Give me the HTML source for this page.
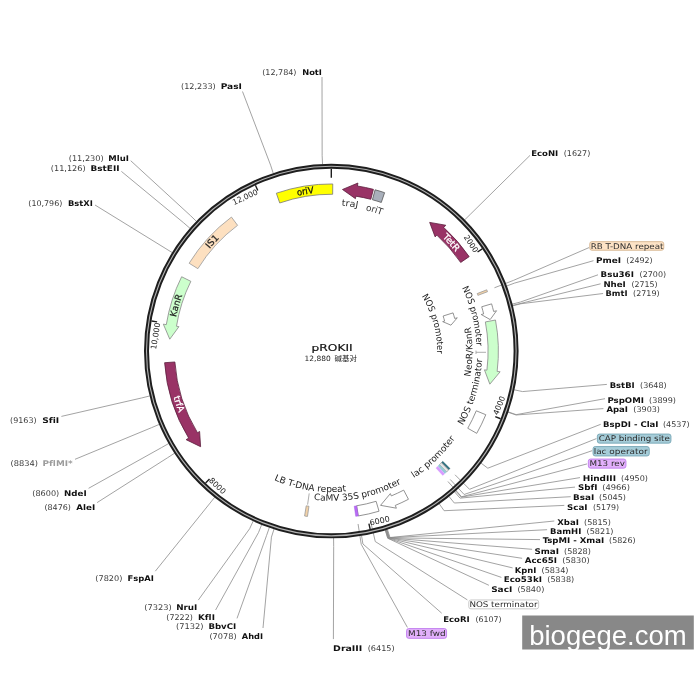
<!DOCTYPE html><html><head><meta charset="utf-8"><title>pROKII</title><style>html,body{margin:0;padding:0;background:#fff;}svg{display:block;}text{font-family:"DejaVu Sans Condensed","DejaVu Sans",sans-serif;font-variant-ligatures:none;font-feature-settings:"liga" 0,"clig" 0;}</style></head><body>
<svg width="700" height="700" viewBox="0 0 700 700">
<rect width="700" height="700" fill="#fff"/>
<path d="M322.55,164.35 L322.15,155.76 L322,77 M273.28,173.38 L270.62,165.21 L242.5,91.5 M196.59,221.5 L190.39,215.53 L130.7,160.7 M190.19,228.49 L183.7,222.85 L121.4,171.4 M172.37,252.7 L165.06,248.17 L95,205 M149.87,395.92 L141.52,397.99 L61.4,416.4 M159.37,424.34 L151.46,427.71 L75,459.3 M168.84,443.45 L161.36,447.7 L88.6,488.3 M174.72,453.1 L167.51,457.79 L97.1,502.6 M214.77,497.17 L209.41,503.9 L155.3,571.2 M253.26,520.88 L249.67,528.69 L198.3,600.1 M261.72,524.51 L258.52,532.5 L215.6,610 M269.4,527.4 L266.55,535.52 L237,618.4 M274.07,528.97 L271.43,537.16 L263,628 M333.58,537.94 L333.68,546.54 L333.4,639.1 M361.53,535.49 L362.92,543.98 L441.7,613.2 M385.23,530 L387.71,538.24 L488.9,585.3 M385.4,529.95 L387.89,538.18 L501.4,577.4 M385.75,529.84 L388.26,538.07 L512.6,567.9 M386.1,529.74 L388.62,537.96 L522.1,558.3 M386.27,529.68 L388.8,537.9 L532.1,549.3 M386.45,529.63 L388.99,537.85 L540,539.6 M386.88,529.49 L389.44,537.7 L547.1,529.7 M387.41,529.33 L389.99,537.53 L554.3,521 M439.16,503.69 L444.12,510.71 L564.3,505.4 M448.9,496.32 L454.31,503 L570.7,496.7 M454.41,491.68 L460.07,498.15 L575,487.1 M455.5,490.71 L461.21,497.14 L580,477.6 M480.94,463.04 L487.82,468.19 L600.7,424.3 M507.92,412.18 L516.05,414.99 L603.4,408.6 M508.04,411.83 L516.17,414.63 L605,398.7 M514.14,389.79 L522.55,391.57 L606.9,384.4 M512.65,305.82 L520.99,303.74 L603.1,293.5 M512.56,305.47 L520.9,303.37 L600.6,283.8 M512.22,304.15 L520.54,301.99 L598,274.8 M506.54,286.06 L514.6,283.07 L593.5,260.7 M464.55,219.99 L470.68,213.96 L530,155.4 M494.46,287.77 L513.57,280.35 L589,247.6 M455.04,474.79 L469.54,489.29 L596.4,438.6 M450.2,479.45 L464.13,494.49 L592.1,450.7 M447.94,481.51 L461.61,496.79 L587.1,463.9 M370.67,521.56 L375.28,541.54 L467.4,599.9 M358.07,523.99 L361.21,544.25 L407.4,627.4" fill="none" stroke="#8c8c8c" stroke-width="0.8"/>
<circle cx="331.3" cy="351.05" r="184.8" fill="none" stroke="#1e1e1e" stroke-width="5.0"/>
<circle cx="331.3" cy="351.05" r="184.8" fill="none" stroke="#b4b4b4" stroke-width="1.1"/>
<path d="M482.26,248.85 L477.54,252.04 M500.56,418.75 L495.27,416.64 M370.13,529.17 L368.92,523.6 M205.58,483.06 L209.51,478.93 M151.5,320.95 L157.12,321.89 M255.42,185.29 L257.8,190.47 M331.3,168.75 L331.3,177.75" stroke="#1e1e1e" stroke-width="1.4" fill="none"/>
<path d="M276.35,193.24 A167.1,167.1 0 0 1 332.76,183.96 L332.67,194.26 A156.8,156.8 0 0 0 279.73,202.97 Z" fill="#ffff00" stroke="#777" stroke-width="0.8" stroke-linejoin="miter"/>
<path d="M342.48,189.49 L357.91,183.04 L357.44,186.01 A167.1,167.1 0 0 1 373.42,189.35 L370.82,199.31 A156.8,156.8 0 0 0 355.83,196.18 L355.44,198.65 Z" fill="#993366" stroke="#5c1f3d" stroke-width="0.8" stroke-linejoin="miter"/>
<path d="M375.11,189.8 A167.1,167.1 0 0 1 384.6,192.68 L381.31,202.44 A156.8,156.8 0 0 0 372.41,199.74 Z" fill="#a9b0bb" stroke="#555" stroke-width="0.8" stroke-linejoin="miter"/>
<path d="M429.66,222.39 L445.78,225.24 L443.76,227.46 A167.1,167.1 0 0 1 469.18,256.64 L460.68,262.46 A156.8,156.8 0 0 0 436.83,235.08 L435.15,236.92 Z" fill="#993366" stroke="#5c1f3d" stroke-width="0.8" stroke-linejoin="miter"/>
<path d="M486.77,289.81 A167.1,167.1 0 0 1 487.51,291.71 L477.88,295.37 A156.8,156.8 0 0 0 477.19,293.58 Z" fill="#f3d2a8" stroke="#999" stroke-width="0.8" stroke-linejoin="miter"/>
<path d="M491.6,303.87 A167.1,167.1 0 0 1 493.65,311.47 L496.56,310.76 L490.17,319.59 L481.21,314.51 L483.64,313.91 A156.8,156.8 0 0 0 481.72,306.78 Z" fill="#ffffff" stroke="#777" stroke-width="0.8" stroke-linejoin="miter"/>
<path d="M495.49,320.03 A167.1,167.1 0 0 1 497.15,371.41 L500.13,371.78 L489.83,384.17 L484.45,369.85 L486.93,370.16 A156.8,156.8 0 0 0 485.37,321.94 Z" fill="#ccffcc" stroke="#888" stroke-width="0.8" stroke-linejoin="miter"/>
<path d="M453.06,312.89 A127.6,127.6 0 0 1 454.67,318.46 L457.28,317.77 L450.94,325.18 L442.68,321.62 L444.61,321.11 A117.2,117.2 0 0 0 443.14,316 Z" fill="#ffffff" stroke="#777" stroke-width="0.8" stroke-linejoin="miter"/>
<path d="M485.79,414.73 A167.1,167.1 0 0 1 476.74,433.33 L467.77,428.26 A156.8,156.8 0 0 0 476.27,410.8 Z" fill="#ffffff" stroke="#777" stroke-width="0.8" stroke-linejoin="miter"/>
<path d="M450.07,468.59 A167.1,167.1 0 0 1 448.84,469.82 L441.59,462.5 A156.8,156.8 0 0 0 442.75,461.34 Z" fill="#2f7585" stroke="#2a5560" stroke-width="0.4" stroke-linejoin="miter"/>
<path d="M448.63,470.03 A167.1,167.1 0 0 1 446.64,471.96 L439.53,464.51 A156.8,156.8 0 0 0 441.4,462.7 Z" fill="#e6e6e6" stroke="#666" stroke-width="0.5" stroke-linejoin="miter"/>
<path d="M446.54,472.06 A167.1,167.1 0 0 1 444.83,473.66 L437.84,466.1 A156.8,156.8 0 0 0 439.43,464.6 Z" fill="#93cbd6" stroke="#93cbd6" stroke-width="0.2" stroke-linejoin="miter"/>
<path d="M444.73,473.76 A167.1,167.1 0 0 1 442.68,475.62 L435.81,467.94 A156.8,156.8 0 0 0 437.74,466.19 Z" fill="#d89cff" stroke="#d89cff" stroke-width="0.2" stroke-linejoin="miter"/>
<path d="M408.46,499.27 A167.1,167.1 0 0 1 395.25,505.43 L396.39,508.2 L380.54,505.33 L390.35,493.6 L391.3,495.91 A156.8,156.8 0 0 0 403.7,490.13 Z" fill="#ffffff" stroke="#777" stroke-width="0.8" stroke-linejoin="miter"/>
<path d="M379.04,511.19 A167.1,167.1 0 0 1 358.3,515.95 L356.64,505.79 A156.8,156.8 0 0 0 376.1,501.31 Z" fill="#ffffff" stroke="#777" stroke-width="0.8" stroke-linejoin="miter"/>
<path d="M358.3,515.95 A167.1,167.1 0 0 1 355.71,516.36 L354.21,506.17 A156.8,156.8 0 0 0 356.64,505.79 Z" fill="#b96bf5" stroke="#9a4fe0" stroke-width="0.4" stroke-linejoin="miter"/>
<path d="M307.47,516.44 A167.1,167.1 0 0 1 304.58,516 L306.23,505.83 A156.8,156.8 0 0 0 308.94,506.25 Z" fill="#f3d2a8" stroke="#999" stroke-width="0.8" stroke-linejoin="miter"/>
<path d="M200.61,446.7 L186.11,439.67 L188.67,438.11 A167.1,167.1 0 0 1 164.61,362.71 L174.88,361.99 A156.8,156.8 0 0 0 197.46,432.74 L199.6,431.44 Z" fill="#993366" stroke="#5c1f3d" stroke-width="0.8" stroke-linejoin="miter"/>
<path d="M169.78,339.19 L163.34,324.15 L166.3,324.62 A167.1,167.1 0 0 1 181.63,276.75 L190.85,281.33 A156.8,156.8 0 0 0 176.47,326.25 L178.94,326.65 Z" fill="#ccffcc" stroke="#888" stroke-width="0.8" stroke-linejoin="miter"/>
<path d="M189.13,263.24 A167.1,167.1 0 0 1 231.44,217.07 L237.59,225.33 A156.8,156.8 0 0 0 197.89,268.66 Z" fill="#fde0c0" stroke="#999" stroke-width="0.8" stroke-linejoin="miter"/>
<text x="531.2" y="155.7" font-size="7.8" font-weight="bold" fill="#111" textLength="27.1" lengthAdjust="spacingAndGlyphs">EcoNI</text>
<text x="563.7" y="155.7" font-size="7.8" fill="#3a3a3a" textLength="26.6" lengthAdjust="spacingAndGlyphs">(1627)</text>
<text x="596.1" y="262.9" font-size="7.8" font-weight="bold" fill="#111" textLength="25" lengthAdjust="spacingAndGlyphs">PmeI</text>
<text x="626.3" y="262.9" font-size="7.8" fill="#3a3a3a" textLength="26.3" lengthAdjust="spacingAndGlyphs">(2492)</text>
<text x="600.6" y="276.7" font-size="7.8" font-weight="bold" fill="#111" textLength="33.3" lengthAdjust="spacingAndGlyphs">Bsu36I</text>
<text x="639.6" y="276.7" font-size="7.8" fill="#3a3a3a" textLength="26.5" lengthAdjust="spacingAndGlyphs">(2700)</text>
<text x="603.4" y="286.5" font-size="7.8" font-weight="bold" fill="#111" textLength="22.4" lengthAdjust="spacingAndGlyphs">NheI</text>
<text x="631.5" y="286.5" font-size="7.8" fill="#3a3a3a" textLength="26.2" lengthAdjust="spacingAndGlyphs">(2715)</text>
<text x="605.5" y="296.4" font-size="7.8" font-weight="bold" fill="#111" textLength="22" lengthAdjust="spacingAndGlyphs">BmtI</text>
<text x="633.1" y="296.4" font-size="7.8" fill="#3a3a3a" textLength="26.5" lengthAdjust="spacingAndGlyphs">(2719)</text>
<text x="609.7" y="387.9" font-size="7.8" font-weight="bold" fill="#111" textLength="25" lengthAdjust="spacingAndGlyphs">BstBI</text>
<text x="640" y="387.9" font-size="7.8" fill="#3a3a3a" textLength="26.7" lengthAdjust="spacingAndGlyphs">(3648)</text>
<text x="607.4" y="402.7" font-size="7.8" font-weight="bold" fill="#111" textLength="36.6" lengthAdjust="spacingAndGlyphs">PspOMI</text>
<text x="649.1" y="402.7" font-size="7.8" fill="#3a3a3a" textLength="26.9" lengthAdjust="spacingAndGlyphs">(3899)</text>
<text x="606.5" y="412.1" font-size="7.8" font-weight="bold" fill="#111" textLength="21.5" lengthAdjust="spacingAndGlyphs">ApaI</text>
<text x="633.3" y="412.1" font-size="7.8" fill="#3a3a3a" textLength="26.7" lengthAdjust="spacingAndGlyphs">(3903)</text>
<text x="603" y="426.7" font-size="7.8" font-weight="bold" fill="#111" textLength="55.5" lengthAdjust="spacingAndGlyphs">BspDI - ClaI</text>
<text x="663" y="426.7" font-size="7.8" fill="#3a3a3a" textLength="26.6" lengthAdjust="spacingAndGlyphs">(4537)</text>
<text x="582.7" y="481" font-size="7.8" font-weight="bold" fill="#111" textLength="33.3" lengthAdjust="spacingAndGlyphs">HindIII</text>
<text x="621.1" y="481" font-size="7.8" fill="#3a3a3a" textLength="26.9" lengthAdjust="spacingAndGlyphs">(4950)</text>
<text x="578" y="490.3" font-size="7.8" font-weight="bold" fill="#111" textLength="19.5" lengthAdjust="spacingAndGlyphs">SbfI</text>
<text x="602.3" y="490.3" font-size="7.8" fill="#3a3a3a" textLength="27.6" lengthAdjust="spacingAndGlyphs">(4966)</text>
<text x="573" y="499.6" font-size="7.8" font-weight="bold" fill="#111" textLength="21.2" lengthAdjust="spacingAndGlyphs">BsaI</text>
<text x="599.1" y="499.6" font-size="7.8" fill="#3a3a3a" textLength="26.9" lengthAdjust="spacingAndGlyphs">(5045)</text>
<text x="567" y="510" font-size="7.8" font-weight="bold" fill="#111" textLength="20.5" lengthAdjust="spacingAndGlyphs">ScaI</text>
<text x="593" y="510" font-size="7.8" fill="#3a3a3a" textLength="26.2" lengthAdjust="spacingAndGlyphs">(5179)</text>
<text x="557.3" y="524.6" font-size="7.8" font-weight="bold" fill="#111" textLength="21.6" lengthAdjust="spacingAndGlyphs">XbaI</text>
<text x="584" y="524.6" font-size="7.8" fill="#3a3a3a" textLength="26.9" lengthAdjust="spacingAndGlyphs">(5815)</text>
<text x="550.1" y="533.9" font-size="7.8" font-weight="bold" fill="#111" textLength="31.2" lengthAdjust="spacingAndGlyphs">BamHI</text>
<text x="586.5" y="533.9" font-size="7.8" fill="#3a3a3a" textLength="27" lengthAdjust="spacingAndGlyphs">(5821)</text>
<text x="542.7" y="543.4" font-size="7.8" font-weight="bold" fill="#111" textLength="61.5" lengthAdjust="spacingAndGlyphs">TspMI - XmaI</text>
<text x="609.1" y="543.4" font-size="7.8" fill="#3a3a3a" textLength="26.5" lengthAdjust="spacingAndGlyphs">(5826)</text>
<text x="534.4" y="553.9" font-size="7.8" font-weight="bold" fill="#111" textLength="24.5" lengthAdjust="spacingAndGlyphs">SmaI</text>
<text x="564" y="553.9" font-size="7.8" fill="#3a3a3a" textLength="26.9" lengthAdjust="spacingAndGlyphs">(5828)</text>
<text x="524.8" y="563.2" font-size="7.8" font-weight="bold" fill="#111" textLength="32.2" lengthAdjust="spacingAndGlyphs">Acc65I</text>
<text x="562.3" y="563.2" font-size="7.8" fill="#3a3a3a" textLength="27.3" lengthAdjust="spacingAndGlyphs">(5830)</text>
<text x="514.8" y="572.9" font-size="7.8" font-weight="bold" fill="#111" textLength="21.5" lengthAdjust="spacingAndGlyphs">KpnI</text>
<text x="541.5" y="572.9" font-size="7.8" fill="#3a3a3a" textLength="27" lengthAdjust="spacingAndGlyphs">(5834)</text>
<text x="503.7" y="582.4" font-size="7.8" font-weight="bold" fill="#111" textLength="38.3" lengthAdjust="spacingAndGlyphs">Eco53kI</text>
<text x="547.3" y="582.4" font-size="7.8" fill="#3a3a3a" textLength="26.9" lengthAdjust="spacingAndGlyphs">(5838)</text>
<text x="491.2" y="592.4" font-size="7.8" font-weight="bold" fill="#111" textLength="21.1" lengthAdjust="spacingAndGlyphs">SacI</text>
<text x="517.4" y="592.4" font-size="7.8" fill="#3a3a3a" textLength="26.9" lengthAdjust="spacingAndGlyphs">(5840)</text>
<text x="443.2" y="621.6" font-size="7.8" font-weight="bold" fill="#111" textLength="26.5" lengthAdjust="spacingAndGlyphs">EcoRI</text>
<text x="475.4" y="621.6" font-size="7.8" fill="#3a3a3a" textLength="26.1" lengthAdjust="spacingAndGlyphs">(6107)</text>
<text x="333.1" y="650.9" font-size="7.8" font-weight="bold" fill="#111" textLength="29.2" lengthAdjust="spacingAndGlyphs">DraIII</text>
<text x="367.7" y="650.9" font-size="7.8" fill="#3a3a3a" textLength="27" lengthAdjust="spacingAndGlyphs">(6415)</text>
<text x="262.2" y="74.8" font-size="7.8" fill="#3a3a3a" textLength="34.3" lengthAdjust="spacingAndGlyphs">(12,784)</text>
<text x="302.2" y="74.8" font-size="7.8" font-weight="bold" fill="#111" textLength="19.7" lengthAdjust="spacingAndGlyphs">NotI</text>
<text x="181" y="89.2" font-size="7.8" fill="#3a3a3a" textLength="34.8" lengthAdjust="spacingAndGlyphs">(12,233)</text>
<text x="220.7" y="89.2" font-size="7.8" font-weight="bold" fill="#111" textLength="21.2" lengthAdjust="spacingAndGlyphs">PasI</text>
<text x="68.7" y="160.6" font-size="7.8" fill="#3a3a3a" textLength="35" lengthAdjust="spacingAndGlyphs">(11,230)</text>
<text x="108.3" y="160.6" font-size="7.8" font-weight="bold" fill="#111" textLength="20.6" lengthAdjust="spacingAndGlyphs">MluI</text>
<text x="50.8" y="171" font-size="7.8" fill="#3a3a3a" textLength="34.8" lengthAdjust="spacingAndGlyphs">(11,126)</text>
<text x="90.5" y="171" font-size="7.8" font-weight="bold" fill="#111" textLength="29" lengthAdjust="spacingAndGlyphs">BstEII</text>
<text x="28.3" y="205.7" font-size="7.8" fill="#3a3a3a" textLength="34" lengthAdjust="spacingAndGlyphs">(10,796)</text>
<text x="68" y="205.7" font-size="7.8" font-weight="bold" fill="#111" textLength="24.9" lengthAdjust="spacingAndGlyphs">BstXI</text>
<text x="10.1" y="422.9" font-size="7.8" fill="#3a3a3a" textLength="26.5" lengthAdjust="spacingAndGlyphs">(9163)</text>
<text x="42.2" y="422.9" font-size="7.8" font-weight="bold" fill="#111" textLength="17" lengthAdjust="spacingAndGlyphs">SfiI</text>
<text x="32.3" y="496" font-size="7.8" fill="#3a3a3a" textLength="26.9" lengthAdjust="spacingAndGlyphs">(8600)</text>
<text x="64.1" y="496" font-size="7.8" font-weight="bold" fill="#111" textLength="22.6" lengthAdjust="spacingAndGlyphs">NdeI</text>
<text x="44.4" y="510.3" font-size="7.8" fill="#3a3a3a" textLength="26.5" lengthAdjust="spacingAndGlyphs">(8476)</text>
<text x="76.3" y="510.3" font-size="7.8" font-weight="bold" fill="#111" textLength="18.9" lengthAdjust="spacingAndGlyphs">AleI</text>
<text x="95.3" y="580.9" font-size="7.8" fill="#3a3a3a" textLength="27.1" lengthAdjust="spacingAndGlyphs">(7820)</text>
<text x="127.5" y="580.9" font-size="7.8" font-weight="bold" fill="#111" textLength="26.4" lengthAdjust="spacingAndGlyphs">FspAI</text>
<text x="144.2" y="609.9" font-size="7.8" fill="#3a3a3a" textLength="27.5" lengthAdjust="spacingAndGlyphs">(7323)</text>
<text x="176.2" y="609.9" font-size="7.8" font-weight="bold" fill="#111" textLength="21.2" lengthAdjust="spacingAndGlyphs">NruI</text>
<text x="166.3" y="619.5" font-size="7.8" fill="#3a3a3a" textLength="26.6" lengthAdjust="spacingAndGlyphs">(7222)</text>
<text x="198" y="619.5" font-size="7.8" font-weight="bold" fill="#111" textLength="16.9" lengthAdjust="spacingAndGlyphs">KflI</text>
<text x="176" y="628.9" font-size="7.8" fill="#3a3a3a" textLength="27.6" lengthAdjust="spacingAndGlyphs">(7132)</text>
<text x="208.4" y="628.9" font-size="7.8" font-weight="bold" fill="#111" textLength="27.8" lengthAdjust="spacingAndGlyphs">BbvCI</text>
<text x="209.4" y="638.7" font-size="7.8" fill="#3a3a3a" textLength="27.2" lengthAdjust="spacingAndGlyphs">(7078)</text>
<text x="241.8" y="638.7" font-size="7.8" font-weight="bold" fill="#111" textLength="21.2" lengthAdjust="spacingAndGlyphs">AhdI</text>
<text x="10.5" y="466" font-size="7.8" fill="#3a3a3a" textLength="27.5" lengthAdjust="spacingAndGlyphs">(8834)</text>
<text x="42.5" y="466" font-size="7.8" font-weight="bold" fill="#9c9c9c" textLength="30.2" lengthAdjust="spacingAndGlyphs">PflMI*</text>
<rect x="589.75" y="241.65" width="74" height="8.6" rx="2.2" fill="#fde3c6" stroke="#d6b48e" stroke-width="0.9"/>
<text x="590.7" y="248.8" font-size="7.8" fill="#2a2a2a" textLength="72.8" lengthAdjust="spacingAndGlyphs">RB T-DNA repeat</text>
<rect x="597.35" y="434.05" width="73.6" height="9.1" rx="2.2" fill="#a5ccd8" stroke="#76a6b6" stroke-width="0.9"/>
<text x="598.7" y="441.4" font-size="7.8" fill="#2a2a2a" textLength="71.2" lengthAdjust="spacingAndGlyphs">CAP binding site</text>
<rect x="593.05" y="446.55" width="56.2" height="9.4" rx="2.2" fill="#a5ccd8" stroke="#76a6b6" stroke-width="0.9"/>
<text x="593.7" y="454.2" font-size="7.8" fill="#2a2a2a" textLength="54" lengthAdjust="spacingAndGlyphs">lac operator</text>
<rect x="588.35" y="459.05" width="37.6" height="9.1" rx="2.2" fill="#e2b0fb" stroke="#bf7ded" stroke-width="0.9"/>
<text x="589.4" y="466.4" font-size="7.8" fill="#2a2a2a" textLength="35.5" lengthAdjust="spacingAndGlyphs">M13 rev</text>
<rect x="468.75" y="599.95" width="69.9" height="8.9" rx="2.2" fill="#ffffff" stroke="#c4c4c4" stroke-width="0.9"/>
<text x="469.4" y="607" font-size="7.8" fill="#2a2a2a" textLength="68.1" lengthAdjust="spacingAndGlyphs">NOS terminator</text>
<rect x="406.55" y="628.55" width="40" height="9.8" rx="2.2" fill="#e2b0fb" stroke="#bf7ded" stroke-width="0.9"/>
<text x="408.1" y="636.2" font-size="7.8" fill="#2a2a2a" textLength="37.4" lengthAdjust="spacingAndGlyphs">M13 fwd</text>
<text transform="translate(474.72,253.95) rotate(55.9)" x="-0.8" text-anchor="end" font-size="7.8" fill="#222" textLength="19.3" lengthAdjust="spacingAndGlyphs">2000</text>
<text transform="translate(497.31,417.45) rotate(-68.2)" x="2" text-anchor="start" font-size="7.8" fill="#222" textLength="19.5" lengthAdjust="spacingAndGlyphs">4000</text>
<text transform="translate(369.38,525.75) rotate(-12.3)" x="0.8" text-anchor="start" font-size="7.8" fill="#222" textLength="20.5" lengthAdjust="spacingAndGlyphs">6000</text>
<text transform="translate(207.99,480.53) rotate(43.6)" x="0.8" text-anchor="start" font-size="7.8" fill="#222" textLength="19.5" lengthAdjust="spacingAndGlyphs">8000</text>
<text transform="translate(160.48,322.45) rotate(-80.5)" x="-0.8" text-anchor="end" font-size="7.8" fill="#222" textLength="27" lengthAdjust="spacingAndGlyphs">10,000</text>
<text transform="translate(259.21,193.57) rotate(-24.6)" x="-0.8" text-anchor="end" font-size="7.8" fill="#222" textLength="27" lengthAdjust="spacingAndGlyphs">12,000</text>
<defs></defs>
<path id="a1" d="M175.16,321.55 A158.9,158.9 0 0 1 469.87,273.29" fill="none"/>
<text style='font-family:"DejaVu Sans",sans-serif' font-size="9" fill="#111" textLength="16.9" lengthAdjust="spacingAndGlyphs" stroke="#111" stroke-width="0.25"><textPath href="#a1" startOffset="50%" text-anchor="middle">oriV</textPath></text>
<path id="a2" d="M190.23,424.18 A158.9,158.9 0 0 1 392.36,204.35" fill="none"/>
<text style='font-family:"DejaVu Sans",sans-serif' font-size="9" fill="#222" textLength="14.6" lengthAdjust="spacingAndGlyphs" stroke="#222" stroke-width="0.25"><textPath href="#a2" startOffset="50%" text-anchor="middle">IS1</textPath></text>
<path id="a3" d="M237.01,478.95 A158.9,158.9 0 0 1 321.32,192.46" fill="none"/>
<text style='font-family:"DejaVu Sans",sans-serif' font-size="9" fill="#222" textLength="22.8" lengthAdjust="spacingAndGlyphs" stroke="#222" stroke-width="0.2"><textPath href="#a3" startOffset="50%" text-anchor="middle">KanR</textPath></text>
<path id="a4" d="M227.51,223.56 A164.4,164.4 0 0 0 328.86,515.43" fill="none"/>
<text style='font-family:"DejaVu Sans",sans-serif' font-size="9" fill="#fff" textLength="16.8" lengthAdjust="spacingAndGlyphs" stroke="#fff" stroke-width="0.3"><textPath href="#a4" startOffset="50%" text-anchor="middle">trfA</textPath></text>
<path id="a5" d="M271.52,203.82 A158.9,158.9 0 0 1 471.73,425.4" fill="none"/>
<text style='font-family:"DejaVu Sans",sans-serif' font-size="9" fill="#fff" textLength="20.3" lengthAdjust="spacingAndGlyphs" stroke="#fff" stroke-width="0.3"><textPath href="#a5" startOffset="50%" text-anchor="middle">TetR</textPath></text>
<path id="a6" d="M201.77,284.34 A145.7,145.7 0 0 1 473.41,318.89" fill="none"/>
<text style='font-family:"DejaVu Sans",sans-serif' font-size="9" fill="#333" textLength="16.5" lengthAdjust="spacingAndGlyphs"><textPath href="#a6" startOffset="50%" text-anchor="middle">traJ</textPath></text>
<path id="a7" d="M215.5,263.79 A145,145 0 0 1 476.1,343.46" fill="none"/>
<text style='font-family:"DejaVu Sans",sans-serif' font-size="9" fill="#333" textLength="17" lengthAdjust="spacingAndGlyphs"><textPath href="#a7" startOffset="50%" text-anchor="middle">oriT</textPath></text>
<path id="a8" d="M346.73,206.67 A145.2,145.2 0 0 1 412.28,471.57" fill="none"/>
<text style='font-family:"DejaVu Sans",sans-serif' font-size="9" fill="#222" textLength="60.6" lengthAdjust="spacingAndGlyphs"><textPath href="#a8" startOffset="50%" text-anchor="middle">NOS promoter</textPath></text>
<path id="a9" d="M340.71,245.67 A105.8,105.8 0 0 1 391.83,437.82" fill="none"/>
<text style='font-family:"DejaVu Sans",sans-serif' font-size="9" fill="#222" textLength="60.6" lengthAdjust="spacingAndGlyphs"><textPath href="#a9" startOffset="50%" text-anchor="middle">NOS promoter</textPath></text>
<path id="a10" d="M378.78,484.03 A141.2,141.2 0 0 0 380.4,218.66" fill="none"/>
<text style='font-family:"DejaVu Sans",sans-serif' font-size="9" fill="#222"><textPath href="#a10" startOffset="50%" text-anchor="middle">NeoR/KanR</textPath></text>
<path id="a11" d="M341.18,501.73 A151,151 0 0 0 420.59,229.28" fill="none"/>
<text style='font-family:"DejaVu Sans",sans-serif' font-size="9" fill="#222"><textPath href="#a11" startOffset="50%" text-anchor="middle">NOS terminator</textPath></text>
<path id="a12" d="M264.65,487.1 A151.5,151.5 0 0 0 469.81,289.67" fill="none"/>
<text style='font-family:"DejaVu Sans",sans-serif' font-size="9" fill="#222"><textPath href="#a12" startOffset="50%" text-anchor="middle">lac promoter</textPath></text>
<path id="a13" d="M202.29,427.19 A149.8,149.8 0 0 0 479.07,375.65" fill="none"/>
<text style='font-family:"DejaVu Sans",sans-serif' font-size="9" fill="#222"><textPath href="#a13" startOffset="50%" text-anchor="middle">CaMV 35S promoter</textPath></text>
<path id="a14" d="M192.94,378.2 A141,141 0 0 0 454.74,419.19" fill="none"/>
<text style='font-family:"DejaVu Sans",sans-serif' font-size="9" fill="#222"><textPath href="#a14" startOffset="50%" text-anchor="middle">LB T-DNA repeat</textPath></text>
<path d="M307.6,504.6 L309.2,493.4" stroke="#999" stroke-width="0.8" fill="none"/>
<path d="M476,350.6 V354 M476,352.3 H486" stroke="#999" stroke-width="0.8" fill="none"/>
<text x="311.6" y="350.7" style='font-family:"DejaVu Sans",sans-serif' font-size="9" fill="#111" stroke="#111" stroke-width="0.2" textLength="41" lengthAdjust="spacingAndGlyphs">pROKII</text>
<text x="304.6" y="361" font-size="7.3" fill="#222" textLength="26.2" lengthAdjust="spacingAndGlyphs">12,880</text>
<text x="334.6" y="361" font-size="7.4" fill="#222" style='font-family:"Noto Sans CJK SC","WenQuanYi Zen Hei",sans-serif' textLength="22.4" lengthAdjust="spacingAndGlyphs">碱基对</text>
<rect x="522.2" y="615.5" width="171.6" height="34" fill="#888888"/>
<text x="529.2" y="644.7" style="font-family:'Liberation Sans',Arial,sans-serif" font-size="27.5" fill="#fff">biogege.com</text>
</svg></body></html>
